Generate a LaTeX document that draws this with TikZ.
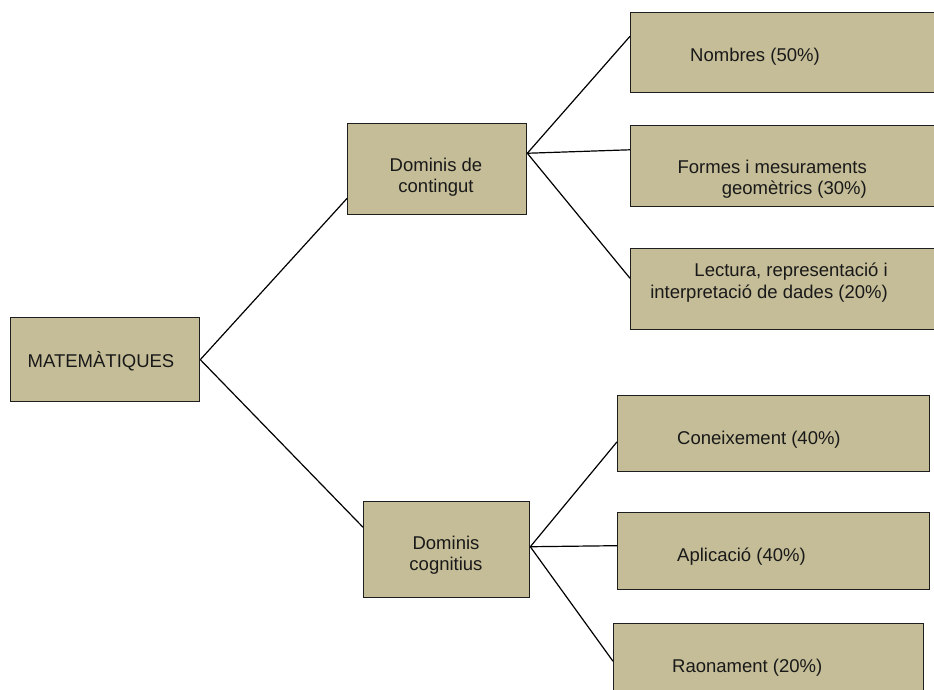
\documentclass[tikz,border=0pt]{standalone}
\usepackage{fontspec}
\setmainfont{Liberation Sans}
\definecolor{boxfill}{HTML}{C4BD97}
\definecolor{boxline}{HTML}{1E1E1E}
\tikzset{
  box/.style={draw=boxline, fill=boxfill, line width=1.3pt, rectangle, inner sep=0pt, anchor=north west},
  txt/.style={inner sep=0pt, font=\fontsize{18.5}{21.5}\selectfont, text=black!90},
  conn/.style={draw=black, line width=1.2pt}
}
\begin{document}
\begin{tikzpicture}[x=1pt,y=-1pt]
\useasboundingbox (0,0) rectangle (934,690);
\clip (0,0) rectangle (934,690);
% boxes
\node[box, minimum width=189pt, minimum height=84pt] (mat) at (10,317) {};
\node[box, minimum width=179pt, minimum height=91pt] (dc) at (347,123) {};
\node[box, minimum width=166pt, minimum height=96pt] (dg) at (363,501) {};
\node[box, minimum width=310pt, minimum height=80pt] (nom) at (630,12) {};
\node[box, minimum width=310pt, minimum height=81pt] (for) at (630,125) {};
\node[box, minimum width=310pt, minimum height=81pt] (lec) at (630,248) {};
\node[box, minimum width=312pt, minimum height=76pt] (con) at (617,395) {};
\node[box, minimum width=312pt, minimum height=77pt] (apl) at (617,512) {};
\node[box, minimum width=310pt, minimum height=97pt] (rao) at (613,623) {};
% connectors
\draw[conn] (mat.east) -- (dc.198.8);
\draw[conn] (mat.east) -- (dg.165.8);
\draw[conn] (dc.10.4) -- (nom.174.5);
\draw[conn] (dc.10.4) -- (for.174.7);
\draw[conn] (dc.10.4) -- (lec.176.9);
\draw[conn] (dg.2.6) -- (con.183.7);
\draw[conn] (dg.2.6) -- (apl.178.5);
\draw[conn] (dg.2.6) -- (rao.176.9);
% texts
\node[txt] (tmat) at (101,361) {MATEMÀTIQUES};
\node[txt, align=center] (tdc) at (436,177) {Dominis de\\contingut};
\node[txt, align=center] (tdg) at (446,555) {Dominis\\cognitius};
\node[txt, anchor=west] (tnom) at (690,57) {Nombres (50\%)};
\node[txt, anchor=east, align=right] (tfor) at (867,179) {Formes i mesuraments\\geomètrics (30\%)};
\node[txt, anchor=east, align=right] (tlec) at (888,282.5) {Lectura, representació i\\interpretació de dades (20\%)};
\node[txt, anchor=west] (tcon) at (677,440) {Coneixement (40\%)};
\node[txt, anchor=west] (tapl) at (677,557) {Aplicació (40\%)};
\node[txt, anchor=west] (trao) at (672,668) {Raonament (20\%)};
\end{tikzpicture}
\end{document}
